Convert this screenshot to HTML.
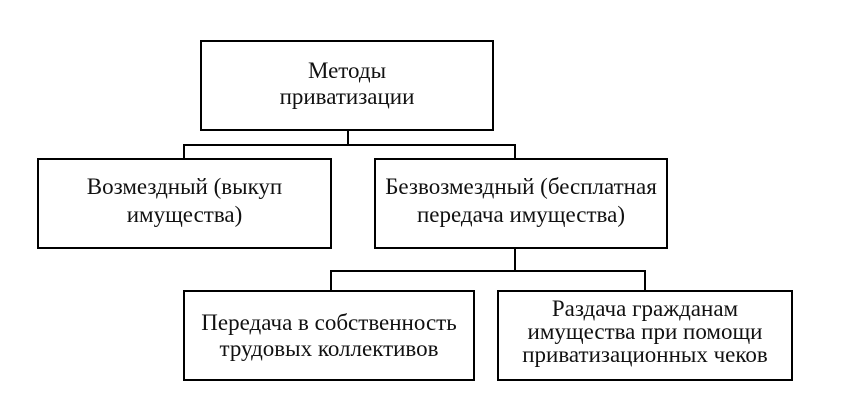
<!DOCTYPE html>
<html><head><meta charset="utf-8"><style>
body{margin:0;background:#fff;width:860px;height:410px;position:relative;overflow:hidden;font-family:"Liberation Serif",serif;}
.b{position:absolute;border:2px solid #000;box-sizing:border-box;display:flex;align-items:center;justify-content:center;text-align:center;font-size:23px;line-height:24px;color:#111;}
.l{position:absolute;background:#000;}
</style></head><body>
<div class="b" style="left:200px;top:40px;width:294px;height:91px;line-height:26px;padding-bottom:4px;">Методы<br>приватизации</div>
<div class="l" style="left:347px;top:131px;width:2px;height:14px"></div>
<div class="l" style="left:183px;top:144px;width:333px;height:2px"></div>
<div class="l" style="left:183px;top:144px;width:2px;height:14px"></div>
<div class="l" style="left:514px;top:144px;width:2px;height:14px"></div>
<div class="b" style="left:37px;top:158px;width:295px;height:91px;line-height:28px;padding-bottom:6px;">Возмездный (выкуп<br>имущества)</div>
<div class="b" style="left:374px;top:158px;width:294px;height:91px;line-height:28px;padding-bottom:6px;">Безвозмездный (бесплатная<br>передача имущества)</div>
<div class="l" style="left:514px;top:249px;width:2px;height:22px"></div>
<div class="l" style="left:330px;top:270px;width:316px;height:2px"></div>
<div class="l" style="left:330px;top:270px;width:2px;height:20px"></div>
<div class="l" style="left:644px;top:270px;width:2px;height:20px"></div>
<div class="b" style="left:183px;top:290px;width:292px;height:91px;line-height:26px;">Передача в собственность<br>трудовых коллективов</div>
<div class="b" style="left:497px;top:290px;width:296px;height:91px;line-height:23px;padding-bottom:8px;">Раздача гражданам<br>имущества при помощи<br>приватизационных чеков</div>
</body></html>
